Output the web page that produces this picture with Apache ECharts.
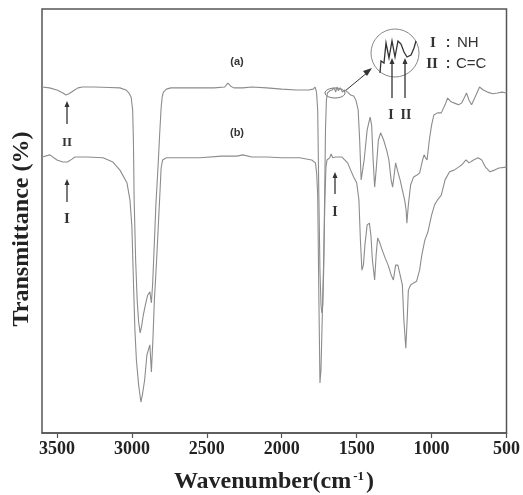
<!DOCTYPE html>
<html>
<head>
<meta charset="utf-8">
<script src="https://cdn.jsdelivr.net/npm/echarts@6/dist/echarts.min.js"></script>
<style>html,body{margin:0;padding:0;background:#fff}#chart{width:523px;height:495px}</style>
</head>
<body>
<div id="chart"></div>
<script>
// ---- data: wavenumber (cm-1) and transmittance (arb. %) ----
const wnA = [3600,3550,3500,3460,3440,3420,3390,3360,3330,3250,3150,3080,3040,3020,3005,2995,2990,2985,2975,2965,2955,2945,2935,2925,2910,2895,2880,2870,2862,2852,2840,2825,2815,2805,2798,2790,2770,2740,2660,2550,2450,2380,2360,2340,2320,2260,2200,2100,2000,1900,1820,1790,1778,1768,1760,1752,1745,1738,1732,1726,1720,1714,1708,1702,1695,1680,1665,1650,1640,1632,1622,1610,1595,1580,1560,1540,1520,1505,1490,1480,1470,1460,1450,1430,1410,1400,1390,1380,1370,1355,1340,1320,1300,1285,1270,1260,1250,1240,1225,1210,1195,1180,1170,1165,1155,1140,1120,1100,1080,1060,1050,1040,1030,1015,1000,985,960,935,910,893,870,847,820,800,780,767,750,733,710,680,655,627,593,560,530,500];
const tA = [81.6,81.4,80.9,80.2,79.7,80.0,80.7,81.4,81.6,81.6,81.5,81.4,80.9,80.2,79.2,76.2,69.1,55.0,40.8,31.4,26.2,23.6,25.2,27.6,30.2,32.5,33.3,30.7,34.9,43.2,53.8,63.2,70.3,76.7,79.2,80.4,81.1,81.4,81.4,81.4,81.4,81.6,82.5,81.8,81.4,81.4,81.6,81.4,81.1,80.9,80.9,81.1,81.6,80.4,76.2,55.0,38.4,30.2,28.3,30.2,38.4,55.0,71.5,78.5,80.2,80.7,80.9,81.4,80.4,81.6,80.7,81.4,80.4,80.9,80.4,79.7,79.5,78.5,76.2,69.1,59.7,60.1,64.4,71.5,74.5,72.6,64.4,58.0,62.0,69.1,70.8,69.1,66.7,64.4,59.7,58.0,60.8,63.7,61.6,59.7,57.3,55.0,52.6,49.5,53.8,58.5,60.4,60.8,61.3,64.4,65.6,64.9,64.4,69.1,72.6,75.0,75.5,75.5,77.4,79.0,78.1,77.8,77.4,77.8,79.2,80.2,78.5,77.4,79.2,81.6,80.9,80.4,80.0,80.2,80.4,80.2];

const wnB = [3600,3547,3500,3460,3430,3400,3380,3300,3193,3127,3080,3033,3013,3000,2990,2980,2970,2955,2940,2930,2915,2900,2880,2870,2860,2850,2835,2822,2812,2805,2795,2770,2660,2547,2400,2300,2260,2200,2100,2000,1880,1800,1775,1767,1760,1752,1745,1738,1730,1720,1712,1705,1698,1680,1670,1660,1640,1600,1580,1560,1540,1520,1500,1485,1475,1465,1455,1445,1430,1415,1405,1395,1380,1370,1360,1345,1330,1310,1290,1270,1255,1240,1225,1210,1195,1185,1172,1163,1155,1140,1120,1100,1080,1065,1045,1025,1000,980,960,935,910,880,850,820,800,770,750,720,690,665,640,610,580,550,500];
const tB = [65.1,65.6,64.4,63.9,63.9,64.6,65.1,65.1,64.9,63.9,62.0,59.0,55.0,48.6,36.1,24.3,17.2,11.3,7.3,9.0,12.5,18.4,20.8,14.4,21.9,31.4,40.8,50.2,57.3,62.5,64.4,64.9,64.9,64.9,65.3,65.3,65.6,65.1,65.1,64.9,64.9,64.4,63.7,61.3,56.1,31.4,11.8,14.9,26.7,40.8,55.0,62.7,64.4,64.9,65.8,64.9,65.1,65.1,64.4,63.7,62.0,60.4,59.0,55.0,45.5,38.4,39.6,44.3,49.1,49.5,46.7,40.8,36.1,42.0,46.0,44.8,43.2,41.3,39.6,37.3,36.1,39.6,39.6,37.3,34.9,26.7,20.0,26.7,33.7,34.9,35.4,35.8,38.4,42.0,45.5,47.4,51.4,53.8,55.0,56.1,59.7,61.6,62.0,62.7,63.2,64.4,63.7,64.4,64.9,64.4,62.7,61.6,62.0,62.5,62.7];

const xTicks = [3500,3000,2500,2000,1500,1000,500];
const seriesNames = ['(a)','(b)'];

// ---- chart ----
const chart = echarts.init(document.getElementById('chart'), null, {renderer:'canvas'});
const zip = (xs, ys) => xs.map((x,i)=>[x, ys[i]]);
const serif = '"Liberation Serif","Times New Roman",serif';
const sans = '"Liberation Sans",Arial,sans-serif';
const ink = '#333';

function arrowUp(x, yTop, yBottom){
  return {type:'group', children:[
    {type:'line', shape:{x1:x,y1:yBottom,x2:x,y2:yTop+5}, style:{stroke:ink,lineWidth:1.3}},
    {type:'polygon', shape:{points:[[x,yTop],[x-2.5,yTop+6],[x+2.5,yTop+6]]}, style:{fill:ink}}
  ]};
}
function txt(x,y,s,size,fam,align){
  return {type:'text', x:x, y:y, style:{text:s, fill:ink, font:'bold '+size+'px '+fam, align:align||'center', verticalAlign:'middle'}};
}

chart.setOption({
  animation:false,
  backgroundColor:'#fff',
  grid:{left:42, right:16, top:9, bottom:62, show:true, borderColor:'#555', borderWidth:1.5, backgroundColor:'transparent'},
  xAxis:{
    type:'value', min:500, max:3600, inverse:true,
    axisLine:{show:true, lineStyle:{color:'#555', width:1.5}},
    axisTick:{show:true, inside:false, length:5, customValues:xTicks, lineStyle:{color:'#555', width:1.2}},
    axisLabel:{customValues:xTicks, margin:7, color:'#222', fontFamily:serif, fontWeight:'bold', fontSize:18,
               formatter:(v)=>String(v)},
    splitLine:{show:false}
  },
  yAxis:{
    type:'value', min:0, max:100,
    axisLine:{show:false}, axisTick:{show:false}, axisLabel:{show:false}, splitLine:{show:false}
  },
  series:[
    {name:seriesNames[0], type:'line', data:zip(wnA,tA), showSymbol:false, smooth:false,
     lineStyle:{color:'#8c8c8c', width:1.1}, z:3},
    {name:seriesNames[1], type:'line', data:zip(wnB,tB), showSymbol:false, smooth:false,
     lineStyle:{color:'#8c8c8c', width:1.1}, z:3}
  ],
  graphic:[
    // axis titles
    {type:'text', x:274, y:482, style:{
      text:'{t|Wavenumber(cm}{s|-1}{t|)}', align:'center', verticalAlign:'middle',
      rich:{t:{font:'bold 24px '+serif, fill:'#222'}, s:{font:'bold 13px '+serif, fill:'#222', verticalAlign:'top', padding:[0,2,10,2]}}
    }},
    {type:'text', x:22, y:229, rotation:Math.PI/2, style:{
      text:'Transmittance (%)', font:'bold 24px '+serif, fill:'#222', align:'center', verticalAlign:'middle'
    }},
    // series labels
    txt(237,62,'(a)',11,sans),
    txt(237,133,'(b)',11,sans),
    // left arrows
    arrowUp(67,101,124),
    txt(67,143,'II',13,serif),
    arrowUp(67,179,202),
    txt(67,219,'I',15,serif),
    // arrow near 1640
    arrowUp(335,172,194),
    txt(335,212,'I',14,serif),
    // ellipse around small feature
    {type:'ellipse', shape:{cx:335, cy:93, rx:10, ry:5}, style:{stroke:'#777', fill:null, lineWidth:1}},
    // pointer to magnified circle
    {type:'line', shape:{x1:345,y1:91,x2:368,y2:72}, style:{stroke:ink,lineWidth:1}},
    {type:'polygon', shape:{points:[[372,68],[363,71],[367,76]]}, style:{fill:ink}},
    // magnified circle
    {type:'circle', shape:{cx:395, cy:53, r:24}, style:{stroke:'#888', fill:null, lineWidth:1}},
    {type:'polyline', shape:{points:[[380,73],[381,61],[384,63],[386,43],[389,58],[392,41],[395,57],[398,41],[401,44],[404,52],[407,57],[411,55],[414,48],[416,41]]},
     style:{stroke:ink, lineWidth:1.3, fill:null}},
    arrowUp(392,58,98),
    arrowUp(405,58,98),
    txt(391,115,'I',14,serif),
    txt(406,115,'II',14,serif),
    // legend text
    txt(433,43,'I',15,serif),
    txt(448,43,':',14,sans),
    {type:'text', x:457, y:43, style:{text:'NH', font:'15px '+sans, fill:ink, align:'left', verticalAlign:'middle'}},
    txt(432,64,'II',15,serif),
    txt(448,64,':',14,sans),
    {type:'text', x:456, y:64, style:{text:'C=C', font:'15px '+sans, fill:ink, align:'left', verticalAlign:'middle'}}
  ]
});
</script>
</body>
</html>
